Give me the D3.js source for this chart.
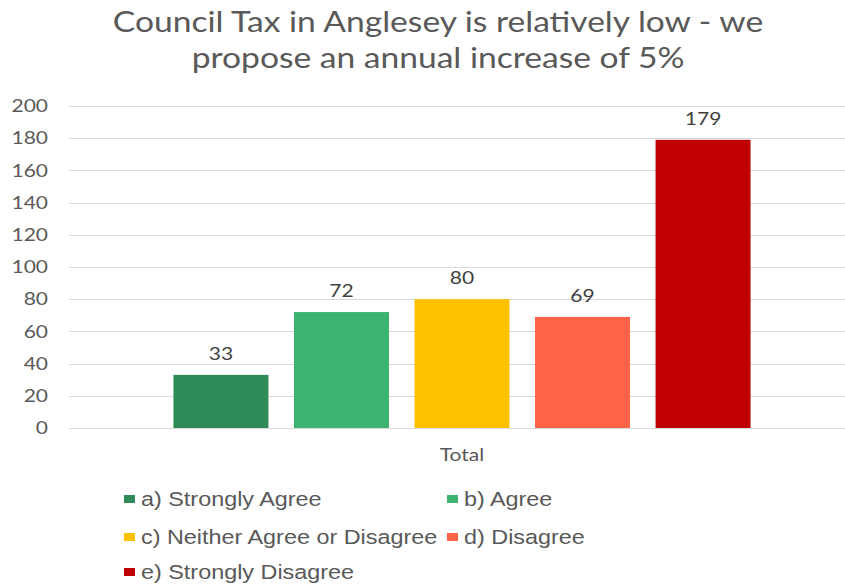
<!DOCTYPE html>
<html>
<head>
<meta charset="utf-8">
<script src="https://cdn.jsdelivr.net/npm/d3@7"></script>
<style>
  html, body { margin: 0; padding: 0; background: #fff; overflow: hidden; }
  svg { display: block; }
</style>
</head>
<body>
<svg id="chart" width="845" height="585"></svg>
<script>
// Survey responses for the single "Total" category
const categories = ["Total"];
const seriesNames = [
  "a) Strongly Agree",
  "b) Agree",
  "c) Neither Agree or Disagree",
  "d) Disagree",
  "e) Strongly Disagree"
];
const seriesValues = [33, 72, 80, 69, 179];
const seriesColors = ["#2E8B57", "#3CB371", "#FFC000", "#FF6347", "#C00000"];
const yTicks = [0, 20, 40, 60, 80, 100, 120, 140, 160, 180, 200];
const titleLines = [
  "Council Tax in Anglesey is relatively low - we",
  "propose an annual increase of 5%"
];

// All text in this chart is drawn slightly widened horizontally
const STRETCH = "scale(1.2,1)";
const LABEL_FONT = "Lato, 'Open Sans', sans-serif";

const svg = d3.select("#chart");
const plot = { left: 69, right: 855, top: 106, bottom: 428 };

const y = d3.scaleLinear().domain([0, 200]).range([plot.bottom, plot.top]);
const x0 = d3.scaleBand().domain(categories)
  .range([plot.left, plot.right]).paddingInner(0).paddingOuter(0.181);
const x1 = d3.scaleBand().domain(seriesNames)
  .range([0, x0.bandwidth()]).paddingInner(0.212).paddingOuter(0);

// Title
svg.append("g").selectAll("g").data(titleLines).join("g")
  .attr("transform", (d, i) => `translate(438,${32 + i * 36}) ${STRETCH}`)
  .append("text")
  .attr("text-anchor", "middle")
  .attr("font-family", LABEL_FONT)
  .attr("font-size", 28)
  .attr("fill", "#595959")
  .text(d => d);

// Horizontal gridlines
svg.append("g").selectAll("line").data(yTicks).join("line")
  .attr("x1", plot.left).attr("x2", plot.right)
  .attr("y1", d => Math.round(y(d)) + 0.5).attr("y2", d => Math.round(y(d)) + 0.5)
  .attr("stroke", "#d9d9d9").attr("stroke-width", 1);

// Y axis labels
const yAxis = d3.axisLeft(y).tickValues(yTicks).tickSize(0).tickPadding(0);
const yg = svg.append("g").attr("transform", `translate(48,0)`).call(yAxis);
yg.select(".domain").remove();
yg.selectAll("text")
  .attr("transform", STRETCH)
  .attr("font-family", LABEL_FONT)
  .attr("font-size", 17.5)
  .attr("fill", "#595959");

// Bars
const groups = svg.append("g").selectAll("g").data(categories).join("g")
  .attr("transform", d => `translate(${x0(d)},0)`);

const rows = seriesNames.map((name, i) => ({ name, value: seriesValues[i], color: seriesColors[i] }));

groups.selectAll("rect").data(rows).join("rect")
  .attr("x", d => x1(d.name))
  .attr("y", d => y(d.value))
  .attr("width", x1.bandwidth())
  .attr("height", d => y(0) - y(d.value))
  .attr("fill", d => d.color);

// Value labels above the bars
groups.selectAll("g.value").data(rows).join("g")
  .attr("class", "value")
  .attr("transform", d => `translate(${x1(d.name) + x1.bandwidth() / 2},${y(d.value) - 15}) ${STRETCH}`)
  .append("text")
  .attr("text-anchor", "middle")
  .attr("font-family", LABEL_FONT)
  .attr("font-size", 17.5)
  .attr("fill", "#404040")
  .text(d => d.value);

// Category axis label
const xAxis = d3.axisBottom(x0).tickSize(0).tickPadding(0);
const xg = svg.append("g").attr("transform", `translate(0,${plot.bottom + 33})`).call(xAxis);
xg.select(".domain").remove();
xg.selectAll("text")
  .attr("dy", 0)
  .attr("transform", STRETCH)
  .attr("font-family", LABEL_FONT)
  .attr("font-size", 17.5)
  .attr("fill", "#595959");

// Legend
const legendPos = [
  { x: 124, y: 499 }, { x: 447, y: 499 },
  { x: 124, y: 537 }, { x: 447, y: 537 },
  { x: 124, y: 572 }
];
const legend = svg.append("g").selectAll("g").data(rows).join("g")
  .attr("transform", (d, i) => `translate(${legendPos[i].x},${legendPos[i].y})`);
legend.append("rect")
  .attr("x", 0).attr("y", -4).attr("width", 11).attr("height", 8)
  .attr("fill", d => d.color);
legend.append("g")
  .attr("transform", `translate(17,0) ${STRETCH}`)
  .append("text")
  .attr("dy", "0.35em")
  .attr("font-family", "'Liberation Sans', Arial, sans-serif")
  .attr("font-size", 19.5)
  .attr("fill", "#595959")
  .text(d => d.name);
</script>
</body>
</html>
